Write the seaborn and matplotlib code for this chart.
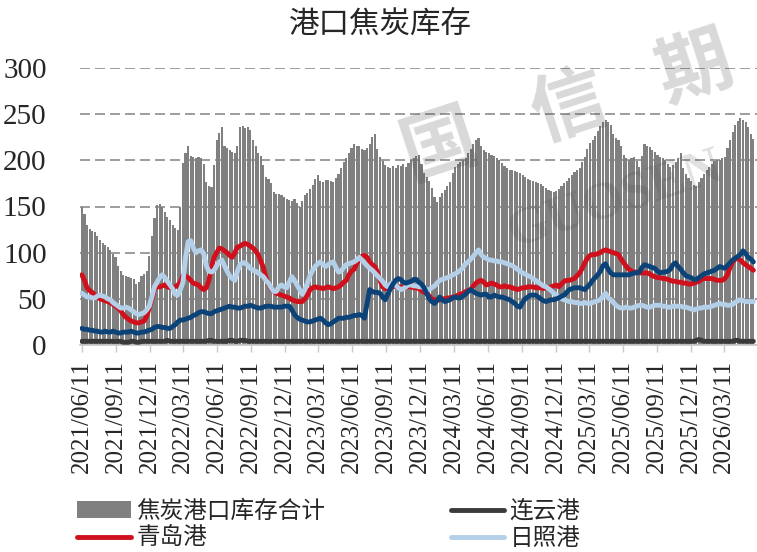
"""
港口焦炭库存: weekly bars (total) with port lines.
"""
import datetime as dt
import matplotlib
matplotlib.use("Agg")
import matplotlib.pyplot as plt
import seaborn as sns

sns.set_theme(style="white")
FONT = ["Liberation Serif", "Noto Sans CJK SC"]
plt.rcParams["font.family"] = FONT

start = dt.date(2021, 6, 11)

# weekly values, one row per quarter (13 weeks)
total = [
    150, 142, 130, 126, 124, 122, 118, 114, 110, 108, 106, 103, 99,
    95, 86, 80, 76, 75, 74, 73, 72, 66, 68, 75, 77, 80,
    96, 118, 138, 152, 153, 149, 144, 139, 135, 130, 127, 125, 150,
    197, 208, 215, 205, 204, 203, 204, 202, 196, 176, 172, 171, 195,
    222, 230, 236, 216, 213, 211, 209, 208, 215, 236, 237, 235, 236,
    233, 222, 216, 208, 205, 195, 182, 180, 175, 166, 164, 163, 162,
    160, 158, 157, 156, 158, 154, 150, 156, 162, 165, 169, 173, 180,
    184, 178, 177, 179, 179, 178, 177, 181, 185, 192, 198, 203, 208,
    213, 218, 216, 215, 212, 211, 213, 218, 225, 229, 212, 204, 199,
    195, 193, 192, 194, 192, 195, 194, 196, 193, 197, 200, 203, 205,
    206, 196, 186, 182, 178, 170, 160, 155, 160, 165, 168, 172, 176,
    186, 193, 196, 198, 200, 203, 208, 212, 218, 222, 224, 215, 211,
    209, 208, 206, 205, 203, 200, 197, 194, 192, 190, 189, 188, 187,
    186, 184, 182, 180, 179, 178, 176, 175, 174, 172, 170, 168, 167,
    166, 167, 169, 172, 175, 178, 181, 184, 187, 190, 192, 198, 204,
    212, 219, 222, 226, 232, 237, 241, 244, 241, 238, 228, 224, 222,
    215, 206, 202, 200, 202, 204, 199, 193, 205, 218, 216, 214, 211,
    209, 206, 204, 202, 200, 196, 193, 195, 198, 203, 208, 192, 185,
    181, 178, 173, 172, 177, 181, 185, 189, 193, 196, 199, 200, 200,
    202, 204, 213, 222, 231, 238, 243, 246, 244, 242, 236, 229, 223,
]
qingdao = [
    76, 70, 62, 59, 57, 54, 52, 50, 49, 48, 47, 46, 44,
    42, 40, 37, 33, 30, 28, 26, 25, 24, 24, 25, 26, 31,
    40, 49, 61, 63, 63, 64, 65, 63, 62, 62, 63, 65, 68,
    75, 75, 73, 70, 67, 66, 65, 62, 60, 62, 70, 84, 95,
    100, 105, 104, 102, 100, 97, 95, 100, 106, 107, 109, 110, 109,
    107, 105, 102, 98, 91, 84, 73, 66, 61, 58, 56, 55, 54,
    53, 52, 51, 49, 48, 47, 47, 47, 50, 54, 60, 62, 63,
    62, 62, 61, 62, 63, 62, 61, 62, 63, 65, 68, 70, 76,
    80, 82, 88, 93, 96, 97, 95, 90, 87, 85, 79, 70, 63,
    61, 61, 63, 63, 64, 63, 63, 62, 63, 63, 63, 62, 62,
    61, 59, 57, 56, 53, 50, 49, 49, 49, 50, 50, 51, 51,
    52, 52, 54, 55, 56, 58, 59, 60, 64, 67, 69, 70, 68,
    65, 66, 67, 66, 65, 63, 63, 64, 63, 63, 62, 61, 60,
    61, 62, 62, 63, 63, 63, 62, 62, 62, 61, 62, 62, 63,
    64, 65, 63, 66, 69, 70, 70, 71, 72, 75, 78, 83, 89,
    94, 97, 98, 98, 99, 100, 102, 103, 102, 101, 100, 99, 98,
    93, 89, 85, 82, 80, 79, 79, 78, 78, 78, 78, 77, 75,
    74, 73, 73, 72, 72, 71, 70, 69, 69, 68, 68, 67, 67,
    66, 66, 67, 68, 69, 71, 72, 72, 72, 72, 71, 70, 70,
    70, 72, 76, 84, 90, 93, 94, 92, 89, 87, 85, 83, 81,
]
other_port = [
    18, 17, 17, 16, 16, 15, 15, 14, 14, 15, 14, 14, 15,
    14, 13, 13, 14, 14, 14, 15, 14, 13, 13, 14, 14, 15,
    16, 17, 19, 20, 20, 19, 19, 18, 18, 20, 22, 25, 27,
    27, 28, 29, 30, 32, 33, 35, 36, 36, 35, 34, 34, 36,
    37, 38, 39, 40, 41, 42, 41, 41, 40, 40, 41, 42, 42,
    43, 42, 41, 40, 40, 41, 42, 42, 42, 41, 41, 41, 41,
    42, 42, 42, 38, 33, 30, 28, 27, 26, 25, 25, 26, 27,
    28, 29, 27, 24, 22, 23, 25, 27, 29, 29, 29, 30, 30,
    31, 32, 32, 33, 32, 29, 45, 60, 58, 57, 57, 56, 52,
    49, 55, 61, 66, 70, 72, 71, 68, 67, 68, 69, 71, 71,
    68, 66, 62, 56, 50, 47, 45, 48, 52, 49, 47, 48, 49,
    51, 52, 51, 51, 53, 55, 58, 60, 58, 56, 55, 54, 55,
    55, 52, 52, 54, 53, 52, 52, 51, 50, 49, 47, 45, 42,
    41, 46, 50, 52, 54, 54, 54, 52, 50, 48, 47, 48, 49,
    49, 50, 51, 53, 54, 57, 60, 61, 62, 62, 62, 61, 60,
    63, 66, 70, 73, 76, 80, 86, 88, 82, 78, 76, 76, 76,
    76, 76, 76, 76, 77, 78, 78, 79, 84, 87, 86, 85, 84,
    83, 80, 78, 79, 79, 80, 82, 87, 89, 85, 82, 78, 75,
    74, 73, 71, 71, 73, 75, 77, 78, 79, 80, 81, 83, 85,
    84, 83, 86, 89, 92, 94, 96, 98, 102, 99, 95, 93, 90,
]
rizhao = [
    56, 54, 52, 52, 51, 51, 53, 54, 53, 52, 50, 49, 46,
    44, 42, 40, 40, 41, 40, 38, 36, 34, 33, 34, 35, 38,
    42, 52, 63, 68, 73, 76, 73, 69, 65, 61, 55, 54, 60,
    68, 95, 112, 113, 105, 100, 102, 103, 99, 86, 80, 79, 81,
    86, 90, 92, 86, 80, 75, 72, 70, 80, 87, 89, 89, 86,
    83, 81, 80, 78, 76, 74, 70, 67, 62, 58, 58, 63, 65,
    63, 62, 68, 74, 70, 65, 60, 55, 60, 67, 75, 81, 85,
    88, 90, 87, 85, 87, 89, 90, 84, 79, 80, 84, 87, 88,
    89, 90, 92, 95, 92, 89, 86, 83, 81, 78, 75, 72, 69,
    65, 63, 66, 68, 65, 62, 60, 61, 63, 65, 65, 64, 64,
    63, 63, 62, 60, 60, 62, 64, 67, 70, 71, 72, 73, 74,
    76, 77, 79, 81, 84, 88, 90, 93, 96, 100, 103, 98, 95,
    94, 92, 92, 91, 91, 90, 90, 89, 88, 87, 86, 84, 82,
    80, 78, 77, 75, 74, 72, 70, 68, 66, 64, 63, 61, 59,
    56, 54, 52, 50, 49, 48, 47, 47, 46, 46, 45, 45, 46,
    45, 45, 46, 47, 48, 49, 53, 56, 51, 49, 46, 43, 41,
    40, 40, 41, 40, 40, 41, 42, 43, 43, 42, 41, 41, 42,
    43, 43, 43, 42, 42, 41, 41, 42, 42, 42, 42, 41, 41,
    40, 39, 38, 39, 40, 40, 41, 41, 41, 42, 43, 44, 45,
    44, 44, 43, 43, 44, 46, 48, 49, 48, 47, 47, 47, 47,
]
lianyungang = [
    4, 4, 4, 4, 4, 4, 4, 4, 4, 4, 4, 4, 4,
    4, 4, 4, 3, 3, 3, 4, 4, 3, 3, 4, 4, 4,
    4, 4, 4, 4, 4, 4, 4, 5, 4, 4, 4, 4, 4,
    4, 4, 4, 4, 4, 4, 4, 4, 4, 4, 5, 5, 4,
    4, 4, 4, 4, 4, 5, 5, 4, 4, 5, 5, 5, 4,
    4, 4, 4, 4, 4, 4, 4, 4, 4, 4, 4, 4, 4,
    4, 4, 4, 4, 4, 4, 4, 4, 4, 4, 4, 4, 4,
    4, 4, 4, 4, 4, 4, 4, 4, 4, 4, 4, 4, 4,
    4, 4, 4, 4, 4, 4, 4, 4, 4, 4, 4, 4, 4,
    4, 4, 4, 4, 4, 4, 4, 4, 4, 4, 4, 4, 4,
    4, 4, 4, 4, 4, 4, 4, 4, 4, 4, 4, 4, 4,
    4, 4, 4, 4, 4, 4, 4, 4, 4, 4, 4, 4, 4,
    4, 4, 4, 4, 4, 4, 4, 4, 4, 4, 4, 4, 4,
    4, 4, 4, 4, 4, 4, 4, 4, 4, 4, 4, 4, 4,
    4, 4, 4, 4, 4, 4, 4, 4, 4, 4, 4, 4, 4,
    4, 4, 4, 4, 4, 4, 4, 4, 4, 4, 4, 4, 4,
    4, 4, 4, 4, 4, 4, 4, 4, 4, 4, 4, 4, 4,
    4, 4, 4, 4, 4, 4, 4, 4, 4, 4, 4, 4, 4,
    4, 4, 4, 5, 6, 5, 4, 4, 4, 4, 4, 4, 4,
    4, 4, 4, 4, 4, 5, 5, 4, 4, 4, 4, 4, 4,
]
tick_dates = [dt.date(2021 + (5 + 3 * k) // 12, (5 + 3 * k) % 12 + 1, 11) for k in range(20)]
tick_labels = [d.strftime("%Y/%m/%d") for d in tick_dates]

weeks = list(range(len(total)))

fig = plt.figure(figsize=(7.57, 5.52), dpi=100)
ax = fig.add_axes([80 / 757, 1 - 345 / 552, 677 / 757, 277 / 552])

ax.yaxis.grid(True, color="#8c8c8c", linestyle=(0, (6, 3)), linewidth=1.2)
ax.set_axisbelow(True)

sns.barplot(x=weeks, y=total, native_scale=True, color="#808080", saturation=1,
            width=0.82, errorbar=None, edgecolor="none", linewidth=0, ax=ax,
            label="焦炭港口库存合计", zorder=2)
sns.lineplot(x=weeks, y=qingdao, color="#D0101C", linewidth=3.5, ax=ax,
             label="青岛港", zorder=3)
sns.lineplot(x=weeks, y=rizhao, color="#B4CFE8", linewidth=3.5, ax=ax,
             label="日照港", zorder=4)
sns.lineplot(x=weeks, y=other_port, color="#0B4379", linewidth=3.5, ax=ax,
             label="_nolegend_", zorder=5)
sns.lineplot(x=weeks, y=lianyungang, color="#3A3A3A", linewidth=3.5, ax=ax,
             label="连云港", zorder=6)

ax.set_ylim(0, 300)
ax.set_yticks(range(0, 301, 50))
ax.set_xlim(-5 / 7, 260.4)
ax.set_xticks([(d - start).days / 7 for d in tick_dates])
ax.set_xticklabels(tick_labels, rotation=90)
ax.tick_params(axis="y", length=0, pad=24, labelsize=21)
ax.tick_params(axis="x", length=5, width=1, color="#c8c8c8", pad=6,
               labelsize=18, bottom=True)
for side in ["top", "right", "left"]:
    ax.spines[side].set_visible(False)
ax.spines["bottom"].set_color("#c8c8c8")
ax.set_xlabel("")
ax.set_ylabel("")

# watermark
for ch, (px, py) in zip("国信期", [(440, 150), (570, 110), (696, 72)]):
    fig.text(px / 757, 1 - py / 552, ch, fontsize=54, fontweight="bold",
             color="#404040", alpha=0.2, rotation=18, ha="center", va="center",
             family=FONT)
fig.text(615 / 757, 1 - 200 / 552, "GUOSEN", fontsize=38, fontweight="bold",
         color="#404040", alpha=0.16, rotation=18, ha="center", va="center",
         family=FONT)

fig.text(380 / 757, 1 - 25 / 552, "港口焦炭库存", fontsize=22, ha="center",
         va="center", family=FONT)

handles, labels = ax.get_legend_handles_labels()
ax.get_legend().remove()
order = ["焦炭港口库存合计", "青岛港", "连云港", "日照港"]
hmap = dict(zip(labels, handles))
fig.legend([hmap[k] for k in order], order, ncol=2, loc="upper left",
           bbox_to_anchor=(68 / 757, 1 - 491 / 552), frameon=False,
           fontsize=17, handlelength=2.25, handletextpad=0.25,
           columnspacing=5.3, labelspacing=0.22, borderaxespad=0)

fig.savefig("out.png", dpi=100)
plt.close(fig)
